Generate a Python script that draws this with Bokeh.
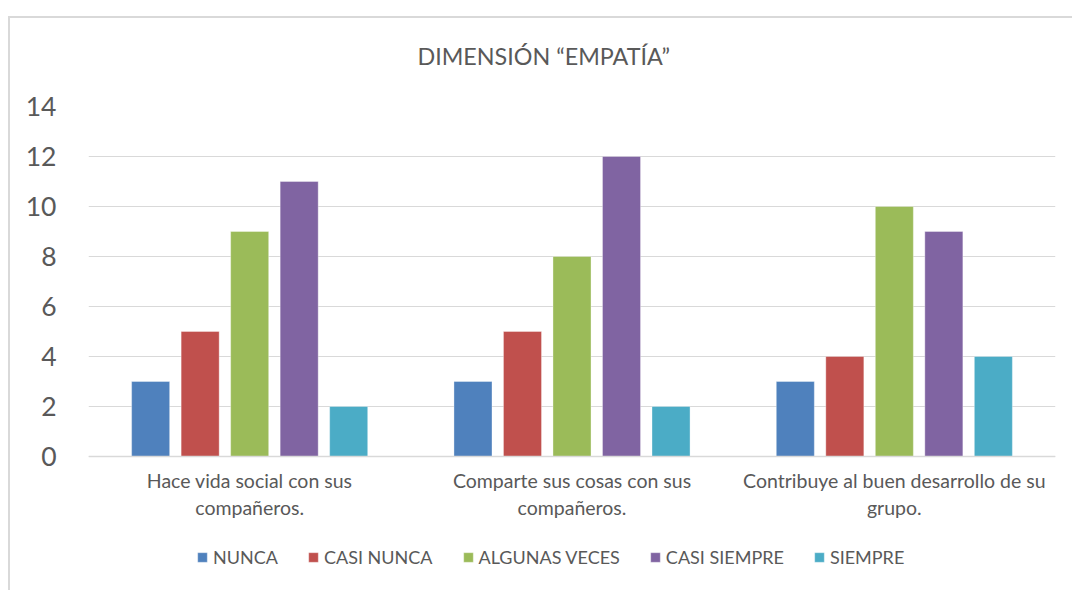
from bokeh.plotting import figure
from bokeh.models import (ColumnDataSource, FixedTicker, Legend, LegendItem, Range1d, Title)
from bokeh.transform import dodge
from bokeh.embed import file_html
from bokeh.resources import INLINE

categories = ["Hace vida social con sus\ncompañeros.",
              "Comparte sus cosas con sus\ncompañeros.",
              "Contribuye al buen desarrollo de su\ngrupo."]
series = ["NUNCA", "CASI NUNCA", "ALGUNAS VECES", "CASI SIEMPRE", "SIEMPRE"]
nunca = [3, 3, 3]
casi_nunca = [5, 5, 4]
algunas_veces = [9, 8, 10]
casi_siempre = [11, 12, 9]
siempre = [2, 2, 4]
colors = ["#4F81BD", "#C0504D", "#9BBB59", "#8064A2", "#4BACC6"]
y_ticks = [0, 2, 4, 6, 8, 10, 12, 14]

FONT = "Lato"
TXT = "#595959"

xpos = [i + 0.5 for i in range(len(categories))]
source = ColumnDataSource(dict(x=xpos, NUNCA=nunca, CASI_NUNCA=casi_nunca,
                               ALGUNAS_VECES=algunas_veces, CASI_SIEMPRE=casi_siempre,
                               SIEMPRE=siempre))

# 25 px per unit; frame extends below zero to hold the category labels and legend
PX = 25.0
y_bottom = -134 / PX
p = figure(frame_width=967, frame_height=484, output_backend="svg", toolbar_location=None,
           x_range=Range1d(0, 3), y_range=Range1d(y_bottom, 14),
           min_border_left=88, min_border_right=17, min_border_top=106, min_border_bottom=0)
p.outline_line_color = None
p.background_fill_color = "white"
p.border_fill_color = "white"

p.title = Title(text="DIMENSIÓN “EMPATÍA”", align="left", text_font=FONT,
                text_font_size="23.3px", text_font_style="normal", text_color=TXT,
                standoff=74, offset=329)

step = 0.1536
width = 0.118
keys = ["NUNCA", "CASI_NUNCA", "ALGUNAS_VECES", "CASI_SIEMPRE", "SIEMPRE"]
items = []
for i, (k, name, c) in enumerate(zip(keys, series, colors)):
    r = p.vbar(x=dodge("x", (i - 2) * step, range=p.x_range), top=k, width=width,
               source=source, fill_color=c, line_color="white", line_alpha=0.35,
               line_width=1)
    items.append(LegendItem(label=name, renderers=[r]))

p.xgrid.visible = False
p.ygrid.ticker = FixedTicker(ticks=y_ticks)
p.ygrid.grid_line_color = "#d9d9d9"
p.ygrid.grid_line_width = 1

p.yaxis.ticker = FixedTicker(ticks=y_ticks)
p.yaxis.axis_line_color = None
p.yaxis.major_tick_line_color = None
p.yaxis.minor_tick_line_color = None
p.yaxis.major_label_text_font = FONT
p.yaxis.major_label_text_font_size = "26.5px"
p.yaxis.major_label_text_color = TXT
p.yaxis.major_label_standoff = 26

p.xaxis.fixed_location = 0
p.xaxis.ticker = FixedTicker(ticks=xpos)
p.xaxis.major_label_overrides = {x: c for x, c in zip(xpos, categories)}
p.xaxis.axis_line_color = "#d9d9d9"
p.xaxis.axis_line_width = 1.5
p.xaxis.major_tick_line_color = None
p.xaxis.minor_tick_line_color = None
p.xaxis.major_label_text_font = FONT
p.xaxis.major_label_text_font_size = "19.5px"
p.xaxis.major_label_text_color = TXT
p.xaxis.major_label_standoff = 6

legend = Legend(items=items, orientation="horizontal", location=(108, 22),
                label_text_font=FONT, label_text_font_size="18px", label_text_color=TXT,
                glyph_width=12, glyph_height=12, label_standoff=5, spacing=29,
                padding=0, margin=0, border_line_color=None, background_fill_alpha=0)
p.add_layout(legend, "center")

p.stylesheets = [":host::before { content: ''; position: absolute; left: 8px; top: 16px; "
                 "right: 0px; bottom: 0px; border-left: 2px solid #d9d9d9; "
                 "border-top: 2px solid #d9d9d9; pointer-events: none; z-index: 100; }"]

open("out.html", "w").write(file_html(p, INLINE))
